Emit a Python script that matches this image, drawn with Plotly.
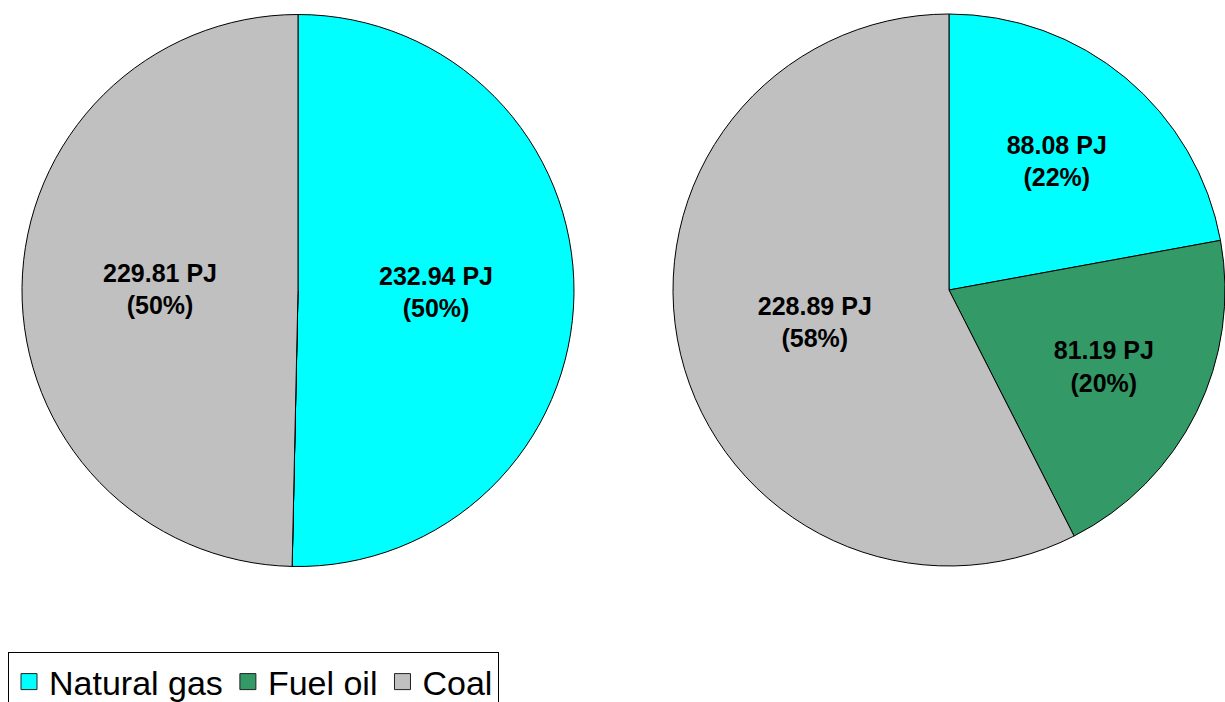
import plotly.graph_objects as go

# Fuel shares (PJ) for the two pies
fuels = ["Natural gas", "Fuel oil", "Coal"]
colors = ["#00FFFF", "#339966", "#C0C0C0"]

left_pj = [232.94, 0.0, 229.81]
left_pct = [50, 0, 50]

right_pj = [88.08, 81.19, 228.89]
right_pct = [22, 20, 58]

W, H = 1225, 702
FONT = "Arial, Liberation Sans"


def labels_for(values, pcts):
    return [f"{v:.2f} PJ<br>({p}%)" if v > 0 else "" for v, p in zip(values, pcts)]


def pie(values, pcts, x0, x1, y_top, y_bot):
    return go.Pie(
        labels=fuels,
        values=values,
        text=labels_for(values, pcts),
        textinfo="text",
        textposition="inside",
        insidetextorientation="horizontal",
        textfont=dict(family=FONT, size=25, color="black", weight="bold"),
        marker=dict(colors=colors, line=dict(color="black", width=1)),
        sort=False,
        direction="clockwise",
        rotation=0,
        hoverinfo="label+value+percent",
        showlegend=False,
        domain=dict(x=[x0 / W, x1 / W], y=[1 - y_bot / H, 1 - y_top / H]),
    )


fig = go.Figure()
fig.add_trace(pie(left_pj, left_pct, 22, 574, 14, 567))
fig.add_trace(pie(right_pj, right_pct, 673, 1225, 10, 570))

# Legend entries: square swatches with a dark outline
for name, col in zip(fuels, colors):
    fig.add_trace(go.Scatter(
        x=[None], y=[None], mode="markers", name=name,
        marker=dict(symbol="square", size=22, color=col,
                    line=dict(color="#222222", width=1)),
        hoverinfo="skip",
    ))

fig.update_layout(
    width=W,
    height=H,
    margin=dict(l=0, r=0, t=0, b=0, autoexpand=False),
    paper_bgcolor="white",
    plot_bgcolor="white",
    font=dict(family=FONT, color="black"),
    xaxis=dict(visible=False),
    yaxis=dict(visible=False),
    legend=dict(
        orientation="h",
        x=8 / W,
        xanchor="left",
        y=1 - 652 / H,
        yanchor="top",
        font=dict(size=34, color="black"),
        bordercolor="black",
        borderwidth=1,
        bgcolor="white",
        traceorder="normal",
        itemclick=False,
        itemsizing="trace",
        itemwidth=30,
        tracegroupgap=0,
    ),
)

fig.write_html("out.html")
